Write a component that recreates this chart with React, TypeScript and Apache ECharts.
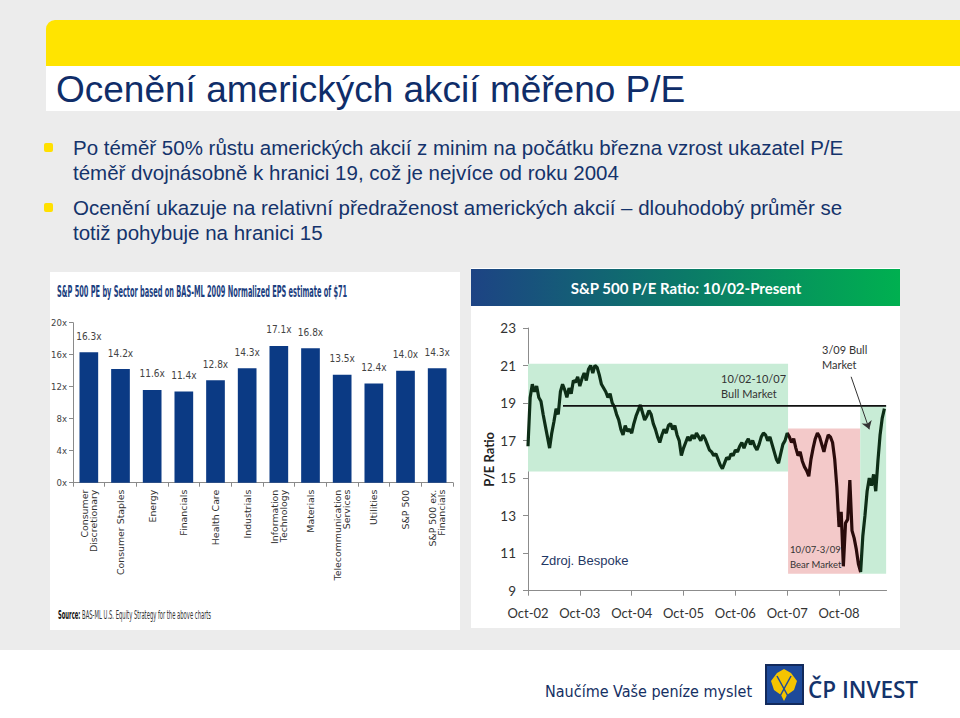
import React, { useEffect, useRef } from "react";
import * as echarts from "echarts";

// ---------- Left chart: S&P 500 PE by sector ----------
const sectorNames = [
  "Consumer\nDiscretionary",
  "Consumer Staples",
  "Energy",
  "Financials",
  "Health Care",
  "Industrials",
  "Information\nTechnology",
  "Materials",
  "Telecommunication\nServices",
  "Utilities",
  "S&P 500",
  "S&P 500 ex.\nFinancials",
];
const sectorPE = [16.3, 14.2, 11.6, 11.4, 12.8, 14.3, 17.1, 16.8, 13.5, 12.4, 14.0, 14.3];
const sectorAxisMin = 0;
const sectorAxisMax = 20;
const sectorAxisStep = 4;

// ---------- Right chart: S&P 500 P/E ratio, 10/02 - present ----------
// one reading every half month, starting Oct-2002
const peStep = 0.5;
const peValues = [
  16.7, 19.3, 20.0, 19.6, 19.9, 19.3, 19.1, 18.4, 17.8, 17.2,
  16.6, 17.4, 18.0, 18.7, 18.4, 19.6, 20.0, 19.7, 19.3, 19.8,
  19.5, 20.2, 20.1, 20.4, 19.9, 20.3, 20.6, 20.2, 20.8, 21.0,
  20.6, 21.0, 20.9, 20.5, 20.0, 19.8, 19.6, 19.3, 19.5, 19.0,
  18.8, 18.4, 18.1, 17.6, 17.3, 17.8, 17.5, 17.6, 17.4, 17.9,
  18.3, 18.6, 18.9, 18.5, 18.1, 18.3, 18.6, 18.4, 17.9, 17.6,
  17.2, 16.9, 17.3, 17.6, 17.4, 17.8, 17.9, 17.6, 17.8, 17.3,
  17.0, 16.2, 16.6, 16.9, 17.2, 17.0, 17.3, 17.1, 17.4, 17.2,
  17.0, 17.3, 17.1, 16.8, 16.5, 16.4, 16.2, 16.3, 16.0, 15.7,
  15.5, 15.8, 16.1, 16.0, 16.3, 16.2, 16.5, 16.4, 16.7, 16.9,
  16.6, 16.9, 17.1, 16.8, 17.0, 16.7, 16.5, 16.8, 17.2, 17.4,
  17.3, 17.0, 17.2, 16.8, 16.4, 16.0, 15.8, 16.3, 16.8, 17.0,
  17.4, 17.2, 16.9, 17.1, 16.6, 16.2, 16.4, 15.9, 15.6, 15.4,
  15.1, 16.0, 16.6, 17.1, 17.4, 17.2, 16.8, 16.4, 16.9, 17.3,
  17.2, 16.9, 16.0, 14.5, 12.4, 13.2, 10.3, 12.6, 12.8, 14.9,
  12.2, 11.8, 11.2, 10.4, 10.0, 11.9, 13.0, 14.3, 15.0, 14.6,
  15.2, 14.3, 15.9, 17.3, 18.2, 18.7,
];
const peAxisMin = 9;
const peAxisMax = 23;
const peAxisStep = 2;
const peMonthsShown = 83;
const yearTickMonths = [0, 12, 24, 36, 48, 60, 72];
const yearTickLabels = ["Oct-02", "Oct-03", "Oct-04", "Oct-05", "Oct-06", "Oct-07", "Oct-08"];

// market regimes (months since Oct-02, P/E range)
const regimeStart = [0, 60.2, 76.9];
const regimeEnd = [60.2, 76.9, 82.9];
const regimeTop = [21.1, 17.65, 18.85];
const regimeBottom = [15.35, 9.9, 9.9];
const regimeColors = ["#c8ecd6", "#f3c9c9", "#c8ecd6"];

const averagePE = 18.85;
const averageFromMonth = 8.1;
const averageToMonth = 82.9;

const bullArrowFrom = [74.8, 20.4];
const bullArrowTo = [79.0, 17.6];

const NAVY = "#14336b";
const NARROW = "'Liberation Sans Narrow', 'DejaVu Sans Condensed', 'Liberation Sans', sans-serif";
const ARIAL = "'Liberation Sans', Arial, sans-serif";
const CAL = "Lato, 'Open Sans', sans-serif";

export default function App() {
  const ref = useRef<HTMLDivElement>(null);

  useEffect(() => {
    if (!ref.current) return;
    const chart = echarts.init(ref.current, undefined, { renderer: "svg" });

    const peData = peValues.map((v, i) => [i * peStep, v]);
    const markAreaData = regimeStart.map((s, i) => [
      { xAxis: s, yAxis: regimeTop[i], itemStyle: { color: regimeColors[i], opacity: 1 } },
      { xAxis: regimeEnd[i], yAxis: regimeBottom[i] },
    ]);

    const bulletFont = `20.5px ${ARIAL}`;

    const option: any = {
      animation: false,
      backgroundColor: "#ffffff",
      grid: [
        { left: 73, top: 322.7, width: 380, height: 160 },
        { left: 528, top: 328, width: 4.32 * peMonthsShown, height: 262.7 },
      ],
      xAxis: [
        {
          type: "category",
          gridIndex: 0,
          data: sectorNames,
          axisLine: { lineStyle: { color: "#8a8a8a", width: 1 } },
          axisTick: { show: true, length: 4, lineStyle: { color: "#8a8a8a" } },
          axisLabel: {
            interval: 0,
            rotate: 90,
            margin: 7,
            fontFamily: "'DejaVu Sans', sans-serif",
            fontSize: 9.4,
            lineHeight: 9,
            color: "#333",
          },
        },
        {
          type: "value",
          gridIndex: 1,
          min: 0,
          max: peMonthsShown,
          interval: 12,
          splitLine: { show: false },
          axisLine: { lineStyle: { color: "#8c8c8c" } },
          axisTick: { show: true, length: 5, customValues: yearTickMonths, lineStyle: { color: "#8c8c8c" } },
          axisLabel: {
            customValues: yearTickMonths,
            formatter: (v: number) => yearTickLabels[yearTickMonths.indexOf(Math.round(v))] ?? "",
            margin: 16,
            fontFamily: CAL,
            fontSize: 13,
            color: "#333",
          },
        },
      ],
      yAxis: [
        {
          type: "value",
          gridIndex: 0,
          min: sectorAxisMin,
          max: sectorAxisMax,
          interval: sectorAxisStep,
          splitLine: { show: false },
          axisLine: { show: true, lineStyle: { color: "#8a8a8a" } },
          axisTick: { show: true, length: 4, lineStyle: { color: "#8a8a8a" } },
          axisLabel: {
            formatter: (v: number) => `${v}x`,
            fontFamily: NARROW,
            fontSize: 9.5,
            color: "#444",
            margin: 6,
          },
        },
        {
          type: "value",
          gridIndex: 1,
          min: peAxisMin,
          max: peAxisMax,
          interval: peAxisStep,
          splitLine: { show: false },
          axisLine: { show: true, lineStyle: { color: "#8c8c8c" } },
          axisTick: { show: true, length: 5, lineStyle: { color: "#8c8c8c" } },
          axisLabel: { fontFamily: CAL, fontSize: 13.5, color: "#333", margin: 12 },
          name: "P/E Ratio",
          nameLocation: "middle",
          nameRotate: 90,
          nameGap: 33,
          nameTextStyle: { fontFamily: CAL, fontSize: 13, fontWeight: "bold", color: "#222" },
        },
      ],
      visualMap: {
        show: false,
        type: "piecewise",
        seriesIndex: 1,
        dimension: 0,
        pieces: [
          { lt: regimeStart[1], color: "#0e2e17" },
          { gte: regimeStart[1], lt: regimeStart[2], color: "#2a0b0b" },
          { gte: regimeStart[2], color: "#0e2e17" },
        ],
      },
      series: [
        {
          type: "bar",
          xAxisIndex: 0,
          yAxisIndex: 0,
          data: sectorPE,
          barWidth: "59%",
          itemStyle: { color: "#0b3a84" },
          label: {
            show: true,
            position: "top",
            distance: 11,
            formatter: (p: any) => `${p.value.toFixed(1)}x`,
            fontFamily: NARROW,
            fontSize: 10,
            color: "#444",
          },
        },
        {
          type: "line",
          xAxisIndex: 1,
          yAxisIndex: 1,
          data: peData,
          showSymbol: false,
          symbol: "none",
          lineStyle: { width: 3.2 },
          z: 3,
          markArea: { silent: true, z: 1, data: markAreaData },
        },
        {
          type: "line",
          xAxisIndex: 1,
          yAxisIndex: 1,
          data: [
            [averageFromMonth, averagePE],
            [averageToMonth, averagePE],
          ],
          showSymbol: false,
          symbol: "none",
          lineStyle: { color: "#111", width: 1.6 },
          z: 4,
          markLine: {
            silent: true,
            symbol: ["none", "arrow"],
            symbolSize: 8,
            label: { show: false },
            lineStyle: { color: "#333", width: 1, type: "solid" },
            data: [[{ coord: bullArrowFrom }, { coord: bullArrowTo }]],
          },
        },
      ],
      graphic: [
        // slide background
        { type: "rect", z: -10, shape: { x: 0, y: 0, width: 960, height: 650 }, style: { fill: "#ececec" } },
        { type: "rect", z: -9, shape: { x: 46, y: 20, width: 914, height: 46, r: [9, 0, 0, 0] }, style: { fill: "#ffe400" } },
        { type: "rect", z: -9, shape: { x: 46, y: 66, width: 914, height: 45 }, style: { fill: "#ffffff" } },
        {
          type: "text",
          z: 10,
          x: 56,
          y: 89,
          style: { text: "Ocenění amerických akcií měřeno P/E", font: `37px ${ARIAL}`, fill: "#0f2d69", textVerticalAlign: "middle" },
        },
        // bullets
        { type: "rect", z: 10, shape: { x: 44, y: 143, width: 9, height: 9, r: 2 }, style: { fill: "#ffe000" } },
        { type: "rect", z: 10, shape: { x: 44, y: 203, width: 9, height: 9, r: 2 }, style: { fill: "#ffe000" } },
        {
          type: "text", z: 10, x: 73, y: 147,
          style: { text: "Po téměř 50% růstu amerických akcií z minim na počátku března vzrost ukazatel P/E", font: bulletFont, fill: NAVY, textVerticalAlign: "middle" },
        },
        {
          type: "text", z: 10, x: 73, y: 172,
          style: { text: "téměř dvojnásobně k hranici 19, což je nejvíce od roku 2004", font: bulletFont, fill: NAVY, textVerticalAlign: "middle" },
        },
        {
          type: "text", z: 10, x: 73, y: 207,
          style: { text: "Ocenění ukazuje na relativní předraženost amerických akcií – dlouhodobý průměr se", font: bulletFont, fill: NAVY, textVerticalAlign: "middle" },
        },
        {
          type: "text", z: 10, x: 73, y: 232,
          style: { text: "totiž pohybuje na hranici 15", font: bulletFont, fill: NAVY, textVerticalAlign: "middle" },
        },
        // left picture frame
        { type: "rect", z: -9, shape: { x: 50, y: 272, width: 410, height: 358 }, style: { fill: "#ffffff" } },
        {
          type: "text", z: 10, x: 57, y: 292, scaleX: 0.49,
          style: {
            text: "S&P 500 PE by Sector based on BAS-ML 2009 Normalized EPS estimate of $71",
            font: `bold 15px ${NARROW}`, fill: "#1d3f80", textVerticalAlign: "middle",
          },
        },
        {
          type: "text", z: 10, x: 58, y: 615, scaleX: 0.485,
          style: {
            text: "{b|Source:} BAS-ML U.S. Equity Strategy for the above charts",
            font: `12px ${NARROW}`, fill: "#333", textVerticalAlign: "middle",
            rich: { b: { fontWeight: "bold", fontFamily: NARROW, fontSize: 12, fill: "#111" } },
          },
        },
        // right picture frame
        { type: "rect", z: -9, shape: { x: 471, y: 268, width: 429, height: 360 }, style: { fill: "#ffffff" } },
        {
          type: "rect", z: 5, shape: { x: 471, y: 269, width: 429, height: 37 },
          style: {
            fill: new echarts.graphic.LinearGradient(0, 0, 1, 0, [
              { offset: 0, color: "#1d4384" },
              { offset: 0.5, color: "#0b7a68" },
              { offset: 1, color: "#00b050" },
            ]),
          },
        },
        {
          type: "text", z: 10, x: 686, y: 288,
          style: { text: "S&P 500 P/E Ratio: 10/02-Present", font: `bold 15px ${CAL}`, fill: "#ffffff", textAlign: "center", textVerticalAlign: "middle" },
        },
        {
          type: "text", z: 10, x: 721, y: 386,
          style: { text: "10/02-10/07\nBull Market", font: `11px ${CAL}`, lineHeight: 15, fill: "#333", textVerticalAlign: "middle" },
        },
        {
          type: "text", z: 10, x: 822, y: 357,
          style: { text: "3/09 Bull\nMarket", font: `11px ${CAL}`, lineHeight: 15, fill: "#333", textVerticalAlign: "middle" },
        },
        {
          type: "text", z: 10, x: 790, y: 557,
          style: { text: "10/07-3/09\nBear Market", font: `9.5px ${CAL}`, lineHeight: 15, fill: "#333", textVerticalAlign: "middle" },
        },
        {
          type: "text", z: 10, x: 541, y: 560,
          style: { text: "Zdroj. Bespoke", font: `13px ${ARIAL}`, fill: "#1f3864", textVerticalAlign: "middle" },
        },
        // footer
        {
          type: "text", z: 10, x: 545, y: 691,
          style: { text: "Naučíme Vaše peníze myslet", font: `16px ${NARROW}`, fill: "#142f63", textVerticalAlign: "middle" },
        },
        { type: "rect", z: 10, shape: { x: 766, y: 665, width: 37, height: 39 }, style: { fill: "#1e4a9a", stroke: "#122a5c", lineWidth: 2 } },
        {
          type: "polygon", z: 11,
          shape: { points: [[784, 669], [791, 673], [797, 681], [794, 690], [787, 695], [784, 701], [781, 695], [774, 690], [771, 681], [777, 673]] },
          style: { fill: "#f4c400" },
        },
        { type: "line", z: 12, shape: { x1: 779, y1: 698, x2: 791, y2: 676 }, style: { stroke: "#1e4a9a", lineWidth: 1.5 } },
        { type: "line", z: 12, shape: { x1: 789, y1: 698, x2: 777, y2: 676 }, style: { stroke: "#1e4a9a", lineWidth: 1.5 } },
        {
          type: "text", z: 10, x: 808, y: 689,
          style: { text: "ČP INVEST", font: `600 22.5px 'Open Sans', sans-serif`, fill: "#14336b", textVerticalAlign: "middle" },
        },
      ],
    };

    chart.setOption(option);
    return () => chart.dispose();
  }, []);

  return <div ref={ref} style={{ position: "absolute", left: 0, top: 0, width: 960, height: 718 }} />;
}
